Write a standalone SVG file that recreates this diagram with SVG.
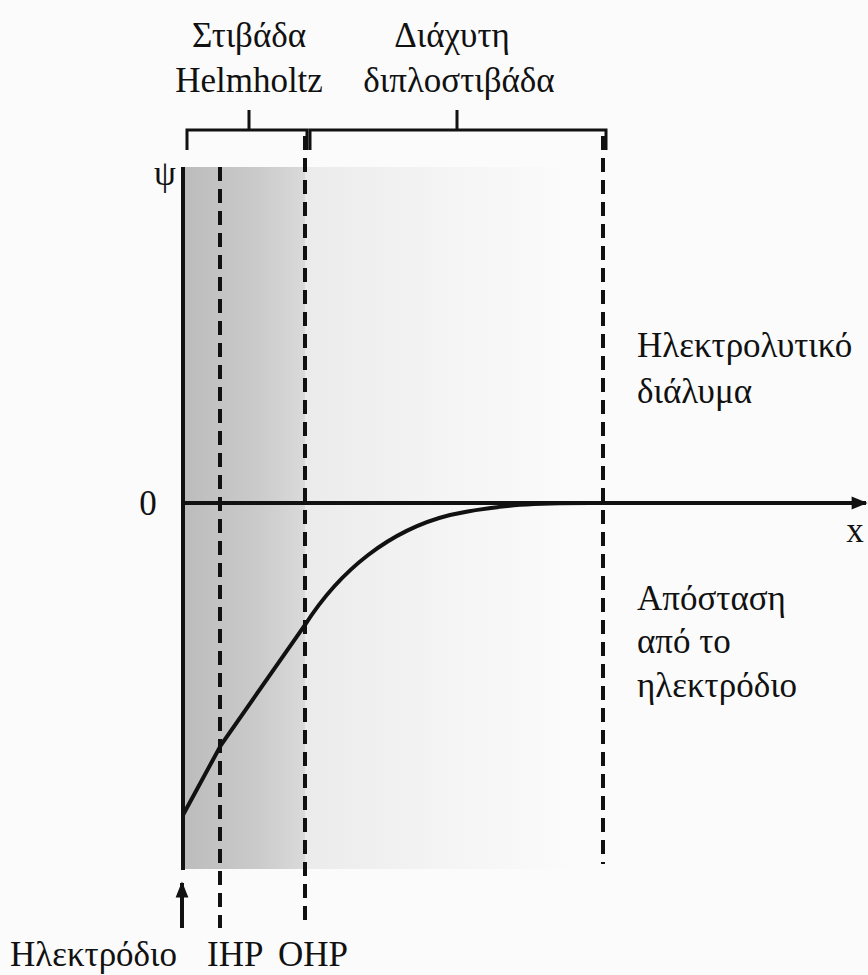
<svg xmlns="http://www.w3.org/2000/svg" width="868" height="975" viewBox="0 0 868 975">
<style>
  text { font-family: "Liberation Serif", "DejaVu Serif", serif; font-size: 35px; fill: #111; }
  .solid { stroke: #111; stroke-width: 4; fill: none; }
  .dash { stroke: #111; stroke-width: 4; stroke-dasharray: 14 8; fill: none; }
  .br { stroke: #111; stroke-width: 3; fill: none; }
</style>
<defs>
  <linearGradient id="gH" x1="0" y1="0" x2="1" y2="0">
    <stop offset="0" stop-color="#bcbcbc"/>
    <stop offset="0.6" stop-color="#cacaca"/>
    <stop offset="1" stop-color="#dadada"/>
  </linearGradient>
  <linearGradient id="gD" x1="0" y1="0" x2="1" y2="0">
    <stop offset="0" stop-color="#ebebeb"/>
    <stop offset="0.5" stop-color="#f4f4f4"/>
    <stop offset="1" stop-color="#fbfbfb"/>
  </linearGradient>
  <marker id="arr" viewBox="0 0 10 10" refX="9" refY="5" markerWidth="5" markerHeight="4" orient="auto" markerUnits="strokeWidth">
    <path d="M0,1 L10,5 L0,9 Z" fill="#111"/>
  </marker>
</defs>
<rect width="868" height="975" fill="#fbfbfb"/>
<g id="shading">
  <rect x="183" y="167" width="122" height="702" fill="url(#gH)"/>
  <rect x="305" y="167" width="270" height="702" fill="url(#gD)"/>
</g>
<g id="labels-top">
  <text x="249" y="47" text-anchor="middle">Στιβάδα</text>
  <text x="249" y="92" text-anchor="middle">Helmholtz</text>
  <text x="452" y="47" text-anchor="middle">Διάχυτη</text>
  <text x="459" y="92" text-anchor="middle">διπλοστιβάδα</text>
</g>
<g id="brackets">
  <path class="br" d="M187,150 V130 H307 V150 M249,110 V130"/>
  <path class="br" d="M310,150 V130 H606 V150 M457,110 V130"/>
</g>
<g id="connectors">
  <line class="solid" x1="183" y1="167" x2="183" y2="870"/>
  <line class="dash" x1="220" y1="167" x2="220" y2="928"/>
  <line class="dash" x1="305" y1="136" x2="305" y2="928"/>
  <line class="dash" x1="603" y1="136" x2="603" y2="864"/>
  <line class="solid" x1="183" y1="503" x2="866" y2="503" marker-end="url(#arr)"/>
  <line class="solid" x1="182" y1="928" x2="182" y2="883" stroke-width="3" marker-end="url(#arr)"/>
  <path class="solid" stroke-width="5" d="M183,815 L221,745 L305,625 C340,570 390,530 450,515 C500,504 540,503 590,503"/>
</g>
<g id="axis-labels">
  <text x="165" y="185" text-anchor="middle">ψ</text>
  <text x="148" y="515" text-anchor="middle">0</text>
  <text x="855" y="542" text-anchor="middle">x</text>
</g>
<g id="side-labels">
  <text x="637" y="357">Ηλεκτρολυτικό</text>
  <text x="637" y="403">διάλυμα</text>
  <text x="637" y="610">Απόσταση</text>
  <text x="637" y="653">από το</text>
  <text x="637" y="697">ηλεκτρόδιο</text>
</g>
<g id="labels-bottom">
  <text x="10" y="966">Ηλεκτρόδιο</text>
  <text x="207" y="966">IHP</text>
  <text x="278" y="966">OHP</text>
</g>
</svg>
